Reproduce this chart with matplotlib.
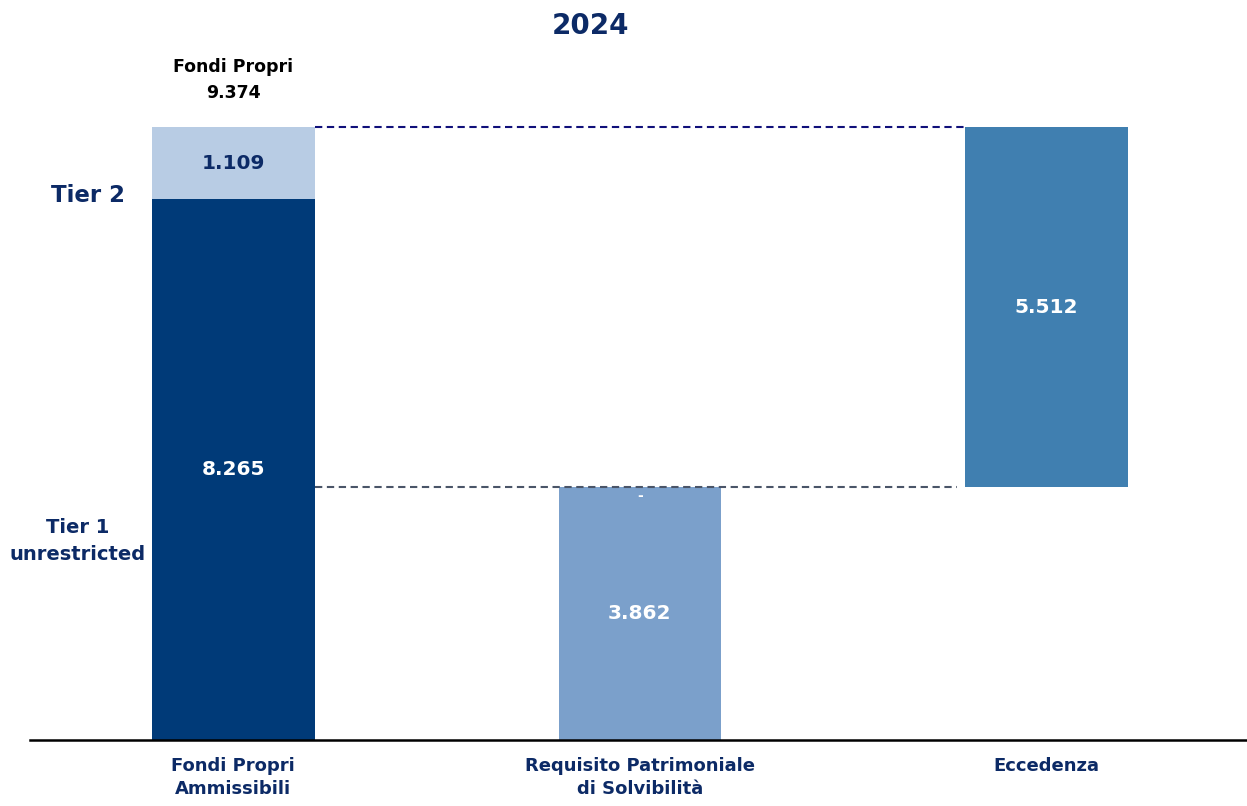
#!/usr/bin/env python3
import numpy as np
import matplotlib
matplotlib.use("Agg")
import matplotlib.pyplot as plt

# data
categorie = ["Fondi Propri\nAmmissibili", "Requisito Patrimoniale\ndi Solvibilità", "Eccedenza"]
tier1 = 8.265
tier2 = 1.109
fondi_propri = 9.374
requisito = 3.862
eccedenza = 5.512

NAVY = "#0c2a66"
C_TIER1 = "#003a78"
C_TIER2 = "#b8cce4"
C_REQ = "#7ba0cb"
C_ECC = "#407fb0"

plt.rcParams['font.family'] = ['DejaVu Sans']

fig = plt.figure(figsize=(12.47, 8.06), dpi=100)
ax = fig.add_axes([30 / 1247, 66 / 806, 1217 / 1247, 640 / 806])

x = np.arange(3)
w = 0.40

# barre
ax.bar(x[0], tier1, width=w, color=C_TIER1)
ax.bar(x[0], tier2, bottom=tier1, width=w, color=C_TIER2)
ax.bar(x[1], requisito, width=w, color=C_REQ)
ax.bar(x[2], eccedenza, bottom=requisito, width=w, color=C_ECC)

# linee tratteggiate
ax.plot([x[0] + w / 2, x[2] - w / 2], [fondi_propri, fondi_propri],
        color="#10107a", lw=1.5, ls=(0, (3.5, 2.2)))
ax.plot([x[0] + w / 2, x[2] - w / 2 - 0.02], [requisito, requisito],
        color="#4a5568", lw=1.5, ls=(0, (3.5, 2.2)))

# etichette valori
fmt = lambda v: f"{v:.3f}"
lab = dict(ha="center", va="center", fontsize=14.5, fontweight="bold")
ax.text(x[0], tier1 + tier2 / 2, fmt(tier2), color=NAVY, **lab)
ax.text(x[0], tier1 / 2, fmt(tier1), color="white", **lab)
ax.text(x[1], requisito / 2, fmt(requisito), color="white", **lab)
ax.text(x[2], requisito + eccedenza / 2, fmt(eccedenza), color="white", **lab)
ax.text(x[1], requisito - 0.03, "-", color="white", ha="center", va="top",
        fontsize=10, fontweight="bold")

ax.text(x[0], 10.09, "Fondi Propri\n" + fmt(fondi_propri), ha="center", va="center",
        fontsize=12.5, fontweight="bold", color="black", clip_on=False, linespacing=1.6)

ax.text(-0.358, 8.33, "Tier 2", ha="center", va="center", fontsize=16.5,
        fontweight="bold", color=NAVY)
ax.text(-0.383, 3.04, "Tier 1\nunrestricted", ha="center", va="center", fontsize=14,
        fontweight="bold", color=NAVY, linespacing=1.5)

fig.text(590 / 1247, 1 - 26 / 806, "2024", ha="center", va="center", fontsize=20,
         fontweight="bold", color=NAVY)

ax.set_xlim(-0.5, 2.493)
ax.set_ylim(0, 9.786)
ax.set_xticks(x)
ax.set_xticklabels(categorie, fontsize=13, fontweight="bold", color=NAVY, linespacing=1.4)
ax.tick_params(axis="x", length=0, pad=12)
ax.set_yticks([])
for s in ["top", "left", "right"]:
    ax.spines[s].set_visible(False)
ax.spines["bottom"].set_linewidth(1.8)
ax.spines["bottom"].set_color("black")

fig.savefig("out.png", dpi=100)
